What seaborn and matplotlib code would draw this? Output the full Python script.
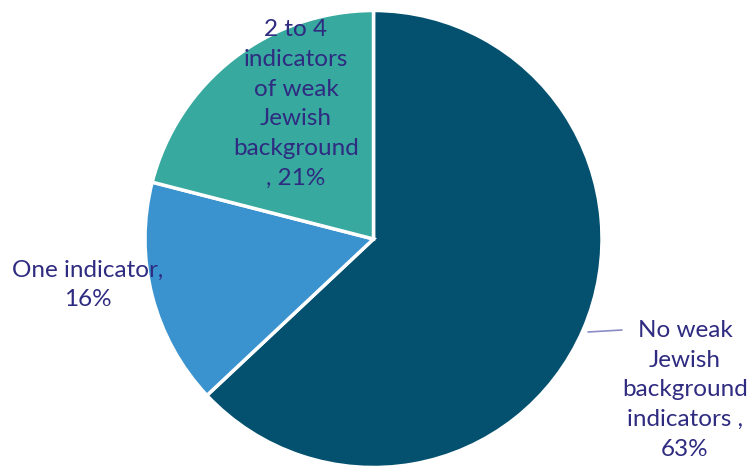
import matplotlib
matplotlib.use("Agg")
import matplotlib.pyplot as plt
import seaborn as sns

categories = [
    "No weak\nJewish\nbackground\nindicators ,",
    "One indicator,",
    "2 to 4\nindicators\nof weak\nJewish\nbackground\n,",
]
values = [63, 16, 21]
colors = ["#03506F", "#3A92CF", "#37A99F"]

sns.set_theme(style="white")
plt.rcParams["font.family"] = ["Lato", "DejaVu Sans"]

W, H = 755, 466
fig = plt.figure(figsize=(W / 100, H / 100), dpi=100)
ax = fig.add_axes([0, 0, 1, 1])

cx, cy, r = 373.5, H - 239, 228.5
ax.pie(values, colors=colors, startangle=90, counterclock=False,
       center=(cx, cy), radius=r, frame=True,
       wedgeprops=dict(edgecolor="white", linewidth=2.5))
ax.set_xlim(0, W)
ax.set_ylim(0, H)
ax.set_aspect("equal")
ax.axis("off")

txt_color = "#2E2B80"
fs = 17.5
label_pos = [(685, H - 390), (88, H - 285), (296, H - 104)]
for cat, val, (x, y) in zip(categories, values, label_pos):
    if cat.endswith("\n,"):
        text = f"{cat} {val}%"
    else:
        text = f"{cat}\n{val}%"
    ax.text(x, y, text, ha="center", va="center", color=txt_color,
            fontsize=fs, linespacing=1.52)

# leader line for the largest slice
ax.plot([588, 622], [H - 332, H - 330], color="#8C8CC8", linewidth=1.2)

fig.savefig("out.png", dpi=100)
